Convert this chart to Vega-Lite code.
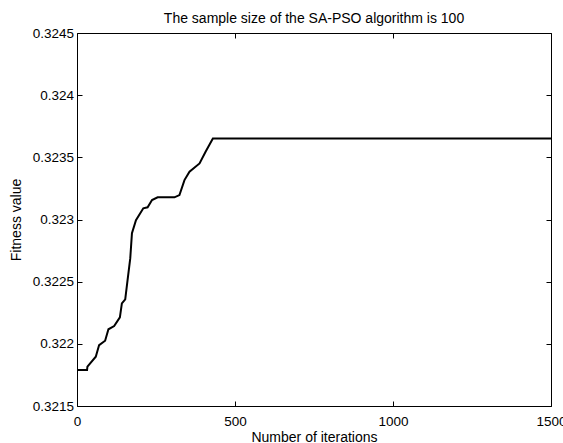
{
  "$schema": "https://vega.github.io/schema/vega-lite/v6.json",
  "autosize": "none",
  "width": 474,
  "height": 373,
  "padding": {"left": 77, "top": 33, "right": 12, "bottom": 37},
  "background": "white",
  "config": {
    "font": "Liberation Sans",
    "view": {"stroke": "black", "strokeWidth": 1},
    "axis": {
      "domain": false,
      "grid": false,
      "minExtent": 0,
      "tickColor": "black",
      "tickSize": -5,
      "tickWidth": 1,
      "labelColor": "black",
      "labelFont": "Liberation Sans",
      "labelFontSize": 13.5,
      "titleColor": "black",
      "titleFont": "Liberation Sans",
      "titleFontSize": 14,
      "titleFontWeight": "normal"
    }
  },
  "title": {
    "text": "The sample size of the SA-PSO algorithm is 100",
    "font": "Liberation Sans",
    "fontSize": 14,
    "fontWeight": "normal",
    "color": "black",
    "anchor": "middle",
    "frame": "group",
    "baseline": "alphabetic",
    "offset": 10,
    "dy": 21
  },
  "data": {
    "values": [
      {"iter": 0, "fitness": 0.321789},
      {"iter": 31.8, "fitness": 0.321789},
      {"iter": 33, "fitness": 0.321816},
      {"iter": 59.4, "fitness": 0.321896},
      {"iter": 70, "fitness": 0.32199},
      {"iter": 89, "fitness": 0.322025},
      {"iter": 99.5, "fitness": 0.322117},
      {"iter": 117.6, "fitness": 0.322143},
      {"iter": 135.7, "fitness": 0.322213},
      {"iter": 142, "fitness": 0.322326},
      {"iter": 152.6, "fitness": 0.322358},
      {"iter": 160, "fitness": 0.322513},
      {"iter": 168.5, "fitness": 0.322687},
      {"iter": 173.9, "fitness": 0.322889},
      {"iter": 186.6, "fitness": 0.322995},
      {"iter": 209.8, "fitness": 0.32309},
      {"iter": 223.5, "fitness": 0.323098},
      {"iter": 237.4, "fitness": 0.323156},
      {"iter": 255.2, "fitness": 0.323178},
      {"iter": 308.3, "fitness": 0.323178},
      {"iter": 324.2, "fitness": 0.323196},
      {"iter": 340.1, "fitness": 0.323317},
      {"iter": 356, "fitness": 0.323384},
      {"iter": 387.8, "fitness": 0.323451},
      {"iter": 406.9, "fitness": 0.323545},
      {"iter": 430, "fitness": 0.323652},
      {"iter": 1500, "fitness": 0.323652}
    ]
  },
  "layer": [
    {
      "mark": {"type": "line", "color": "black", "strokeWidth": 2, "clip": true},
      "encoding": {
        "x": {
          "field": "iter", "type": "quantitative",
          "scale": {"domain": [0, 1500], "nice": false, "zero": false},
          "axis": {
            "orient": "bottom",
            "values": [0, 500, 1000, 1500],
            "format": "d",
            "labelPadding": 13,
            "labelBaseline": "top",
            "labelFlush": false,
            "title": "Number of iterations",
            "titleBaseline": "alphabetic",
            "titleY": 35
          }
        },
        "y": {
          "field": "fitness", "type": "quantitative",
          "scale": {"domain": [0.3215, 0.3245], "nice": false, "zero": false},
          "axis": {
            "orient": "left",
            "values": [0.3215, 0.322, 0.3225, 0.323, 0.3235, 0.324, 0.3245],
            "format": ".4~f",
            "labelPadding": 8.5,
            "labelFlush": false,
            "title": "Fitness value",
            "titleBaseline": "alphabetic",
            "titleX": -57,
            "titleY": 186.5
          }
        }
      }
    },
    {
      "mark": {"type": "line", "strokeOpacity": 0},
      "encoding": {
        "x": {
          "field": "iter", "type": "quantitative",
          "axis": {"orient": "top", "values": [0, 500, 1000, 1500], "labels": false, "title": null, "minExtent": 0, "maxExtent": 0}
        },
        "y": {
          "field": "fitness", "type": "quantitative",
          "axis": {"orient": "right", "values": [0.3215, 0.322, 0.3225, 0.323, 0.3235, 0.324, 0.3245], "labels": false, "title": null, "minExtent": 0, "maxExtent": 0}
        }
      }
    }
  ],
  "resolve": {"axis": {"x": "independent", "y": "independent"}}
}
